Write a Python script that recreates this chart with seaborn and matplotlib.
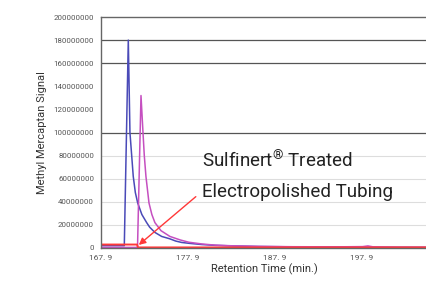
import numpy as np
import pandas as pd
import matplotlib.pyplot as plt
import seaborn as sns

# retention time (min) and signal (millions)
blue_t = [167.9, 170.5, 170.58, 171.04, 171.23, 171.43, 171.61, 171.85, 172.12, 172.6, 173.15,
          173.5, 174.1, 174.88, 175.8, 176.5, 177.18, 178.1, 179.5, 181.0, 183.0, 186.0,
          190.0, 195.0, 200.0, 205.5]
blue_v = [2, 2, 2, 180, 100, 80, 62, 48, 39, 29, 22, 18, 13.5, 10, 8, 6, 4.8, 4, 3, 2.3, 1.8,
          1.3, 1.0, 0.8, 0.6, 0.5]

pink_t = [167.9, 172.1, 172.5, 172.73, 172.88, 173.07, 173.42, 173.75, 174.1, 174.8, 175.83,
          177.0, 178.0, 179.5, 181.0, 183.0, 186.0, 190.0, 195.0, 198.0, 198.6, 199.2, 202.0,
          205.5]
pink_v = [0.5, 0.5, 132, 100, 80, 62, 39, 29, 22, 15, 10, 7, 5, 3.5, 2.5, 1.9, 1.4, 1.1, 1.0,
          1.2, 1.8, 1.0, 0.7, 0.6]

red_t = [167.9, 172.05, 172.15, 205.5]
red_v = [3, 3, 0.5, 0.5]

y_ticks = [0, 20, 40, 60, 80, 100, 120, 140, 160, 180, 200]
x_ticks = [167.9, 177.9, 187.9, 197.9]
x_labels = ["167. 9", "177. 9", "187. 9", "197. 9"]

blue = pd.DataFrame({"t": blue_t, "v": np.array(blue_v) * 1e6})
pink = pd.DataFrame({"t": pink_t, "v": np.array(pink_v) * 1e6})
red = pd.DataFrame({"t": red_t, "v": np.array(red_v) * 1e6})

sns.set_style("white")
plt.rcParams["font.family"] = ["Roboto", "DejaVu Sans"]
plt.rcParams["mathtext.default"] = "regular"

fig = plt.figure(figsize=(4.27, 2.85), dpi=100)
ax = fig.add_axes([101 / 427, 37 / 285, 326 / 427, 231 / 285])

# grid lines
for g in [180, 160, 100]:
    ax.axhline(g * 1e6, color="#555555", lw=0.9, zorder=0)
for g in [80, 60, 40, 20]:
    ax.axhline(g * 1e6, color="#dddddd", lw=0.8, zorder=0)

sns.lineplot(data=blue, x="t", y="v", color="#4a4ab8", lw=1.1, ax=ax)
sns.lineplot(data=pink, x="t", y="v", color="#c54fc0", lw=1.1, ax=ax)
sns.lineplot(data=red, x="t", y="v", color="#ff3838", lw=1.4, ax=ax)

ax.set_xlim(167.9, 205.4)
ax.set_ylim(0, 200e6)
ax.set_yticks([v * 1e6 for v in y_ticks])
ax.set_yticklabels(["0"] + [str(v * 1000000) for v in y_ticks[1:]], fontsize=5.7, color="#555555")
ax.set_xticks(x_ticks)
ax.set_xticklabels(x_labels, fontsize=6, color="#555555")
ax.tick_params(axis="y", direction="out", length=3, width=0.8, color="#777777", pad=2)
ax.tick_params(axis="x", direction="in", length=3, width=0.8, color="#777777", pad=5)

for s in ["left", "top", "bottom"]:
    ax.spines[s].set_color("#666666")
    ax.spines[s].set_linewidth(1.0)
ax.spines["right"].set_visible(False)

ax.set_xlabel("Retention Time (min.)", fontsize=8, color="#333333", labelpad=2)
ax.set_ylabel("Methyl Mercaptan Signal", fontsize=8, color="#333333", labelpad=5)

ax.annotate("", xy=(172.0, 1.1e6), xytext=(179.05, 46e6),
            arrowprops=dict(arrowstyle="-|>", color="#ff3838", lw=1.0, mutation_scale=10))
ax.text(179.47, 69.3e6, "Sulfinert$^{®}$ Treated", fontsize=13.5, color="#222222",
        va="baseline", ha="left")
ax.text(179.47, 44.4e6, "Electropolished Tubing", fontsize=13.5, color="#222222",
        va="baseline", ha="left")

fig.savefig("out.png", dpi=100)
